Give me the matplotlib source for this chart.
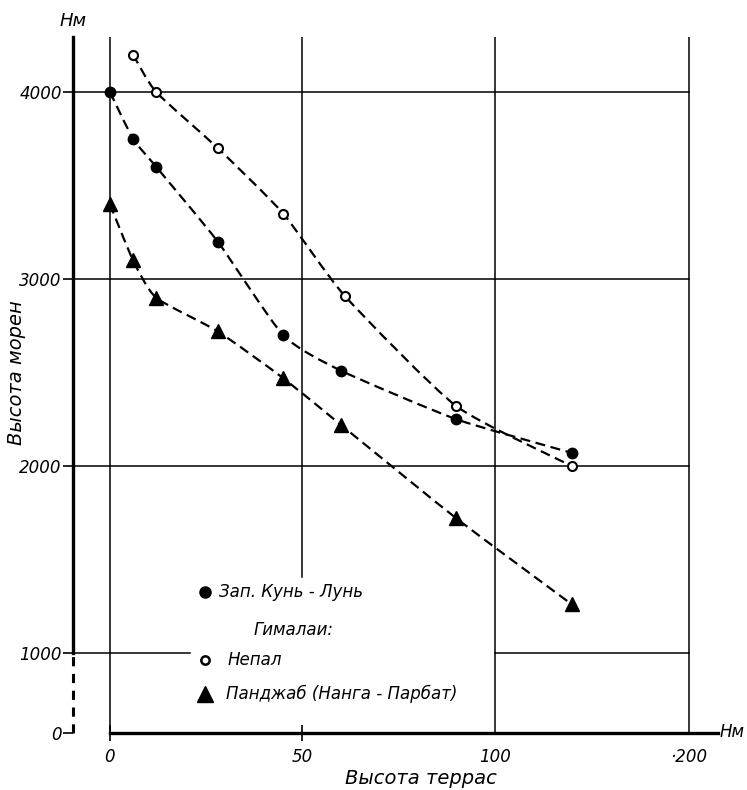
import matplotlib
matplotlib.use("Agg")
import matplotlib.pyplot as plt
from matplotlib.lines import Line2D
from matplotlib.path import Path
from matplotlib.patches import PathPatch

# данные (высота террас, высота морен), м
kunlun_x = [0, 6, 12, 28, 45, 60, 90, 120]
kunlun_y = [4000, 3750, 3600, 3200, 2700, 2510, 2250, 2070]

nepal_x = [6, 12, 28, 45, 61, 90, 120]
nepal_y = [4200, 4000, 3700, 3350, 2910, 2320, 2000]

panjab_x = [0, 6, 12, 28, 45, 60, 90, 120]
panjab_y = [3400, 3100, 2900, 2720, 2470, 2220, 1720, 1260]

# ось X разорвана: отметка "200" стоит ближе, чем по масштабу
x_ticks = [0, 50, 100, 150.4]
x_labels = ["0", "50", "100", "·200"]
y_ticks = [572, 1000, 2000, 3000, 4000]
y_labels = ["0", "1000", "2000", "3000", "4000"]

plt.rcParams['font.family'] = ['DejaVu Sans']
plt.rcParams['font.style'] = 'italic'

W, H = 747, 790
fig = plt.figure(figsize=(W / 100, H / 100), dpi=100)
ax = fig.add_axes([73 / W, 1 - 733 / H, (718 - 73) / W, (733 - 37) / H])

xmin, xmax = -9.6, 158
ymin, ymax = 572, 4294
ax.set_xlim(xmin, xmax)
ax.set_ylim(ymin, ymax)

# сетка
for xv in [0, 100, 150.4]:
    ax.plot([xv, xv], [ymin, ymax], color="black", lw=1.1, zorder=1)
ax.plot([50, 50], [1406, ymax], color="black", lw=1.1, zorder=1)
for yv in [2000, 3000, 4000]:
    ax.plot([xmin, 150.4], [yv, yv], color="black", lw=1.1, zorder=1)
ax.plot([xmin, 20.8], [1000, 1000], color="black", lw=1.1, zorder=1)
ax.plot([100, 150.4], [1000, 1000], color="black", lw=1.1, zorder=1)

# разрыв оси Y
ax.plot([xmin, xmin], [ymin, 1000], color="black", lw=2.2, ls=(0, (3, 2.5)),
        clip_on=False, zorder=3)


def smooth(ax, xs, ys, k=0.1):
    # плавная кривая через точки (кубические Безье в координатах экрана)
    pts = ax.transData.transform(list(zip(xs, ys)))
    verts = [pts[0]]
    codes = [Path.MOVETO]
    n = len(pts)
    for i in range(n - 1):
        p0 = pts[max(i - 1, 0)]
        p1 = pts[i]
        p2 = pts[i + 1]
        p3 = pts[min(i + 2, n - 1)]
        c1 = p1 + (p2 - p0) * k
        c2 = p2 - (p3 - p1) * k
        verts += [c1, c2, p2]
        codes += [Path.CURVE4] * 3
    path = Path(ax.transData.inverted().transform(verts), codes)
    ax.add_patch(PathPatch(path, fill=False, ec="black", lw=1.6,
                           ls=(0, (4.5, 2.5)), zorder=3))


smooth(ax, kunlun_x, kunlun_y)
smooth(ax, nepal_x, nepal_y)
smooth(ax, panjab_x, panjab_y)

ax.plot(kunlun_x, kunlun_y, ls="none", marker="o", ms=7.5,
        mfc="black", mec="black", zorder=4)
ax.plot(nepal_x, nepal_y, ls="none", marker="o", ms=6.5,
        mfc="white", mec="black", mew=1.5, zorder=4)
ax.plot(panjab_x, panjab_y, ls="none", marker="^", ms=10,
        mfc="black", mec="black", zorder=4)

# оси
for s in ["top", "right"]:
    ax.spines[s].set_visible(False)
ax.spines["left"].set_linewidth(2.4)
ax.spines["left"].set_bounds(1000, ymax)
ax.spines["bottom"].set_linewidth(2.4)
ax.spines["bottom"].set_bounds(0, xmax)

ax.set_xticks(x_ticks)
ax.set_xticklabels(x_labels, fontsize=12, style="italic")
ax.set_yticks(y_ticks)
ax.set_yticklabels(y_labels, fontsize=12, style="italic")
ax.tick_params(axis="x", direction="inout", length=12, width=1.2, pad=5)
for t in ax.xaxis.get_major_ticks()[2:]:
    t.tick1line.set_visible(False)
ax.tick_params(axis="y", length=7, width=1.2, pad=1)

fig.text(60 / W, 1 - 21 / H, "Нм", fontsize=13, style="italic",
         ha="left", va="center")
fig.text(720 / W, 1 - 732 / H, "Нм", fontsize=12, style="italic",
         ha="left", va="center")

fig.text(17 / W, 1 - 373 / H, "Высота морен", rotation=90, fontsize=14,
         style="italic", ha="center", va="center")
fig.text(421 / W, 1 - 779 / H, "Высота террас", fontsize=14,
         style="italic", ha="center", va="center")

# легенда
def px(x, y):
    return ((x - 73) / (718 - 73), (733 - y) / (733 - 37))

lx, ly = px(205, 592)
ax.add_line(Line2D([lx], [ly], transform=ax.transAxes, marker="o", ms=8,
                   mfc="black", mec="black", ls="none"))
ax.text(*px(219, 592), "Зап. Кунь - Лунь", transform=ax.transAxes,
        fontsize=12, style="italic", va="center")
ax.text(*px(254, 630), "Гималаи:", transform=ax.transAxes,
        fontsize=12, style="italic", va="center")
lx, ly = px(205, 660)
ax.add_line(Line2D([lx], [ly], transform=ax.transAxes, marker="o", ms=6,
                   mfc="white", mec="black", mew=1.8, ls="none"))
ax.text(*px(228, 660), "Непал", transform=ax.transAxes,
        fontsize=12, style="italic", va="center")
lx, ly = px(205, 694)
ax.add_line(Line2D([lx], [ly], transform=ax.transAxes, marker="^", ms=12,
                   mfc="black", mec="black", ls="none"))
ax.text(*px(226, 694), "Панджаб (Нанга - Парбат)", transform=ax.transAxes,
        fontsize=12, style="italic", va="center")

fig.savefig("out.png", dpi=100)
